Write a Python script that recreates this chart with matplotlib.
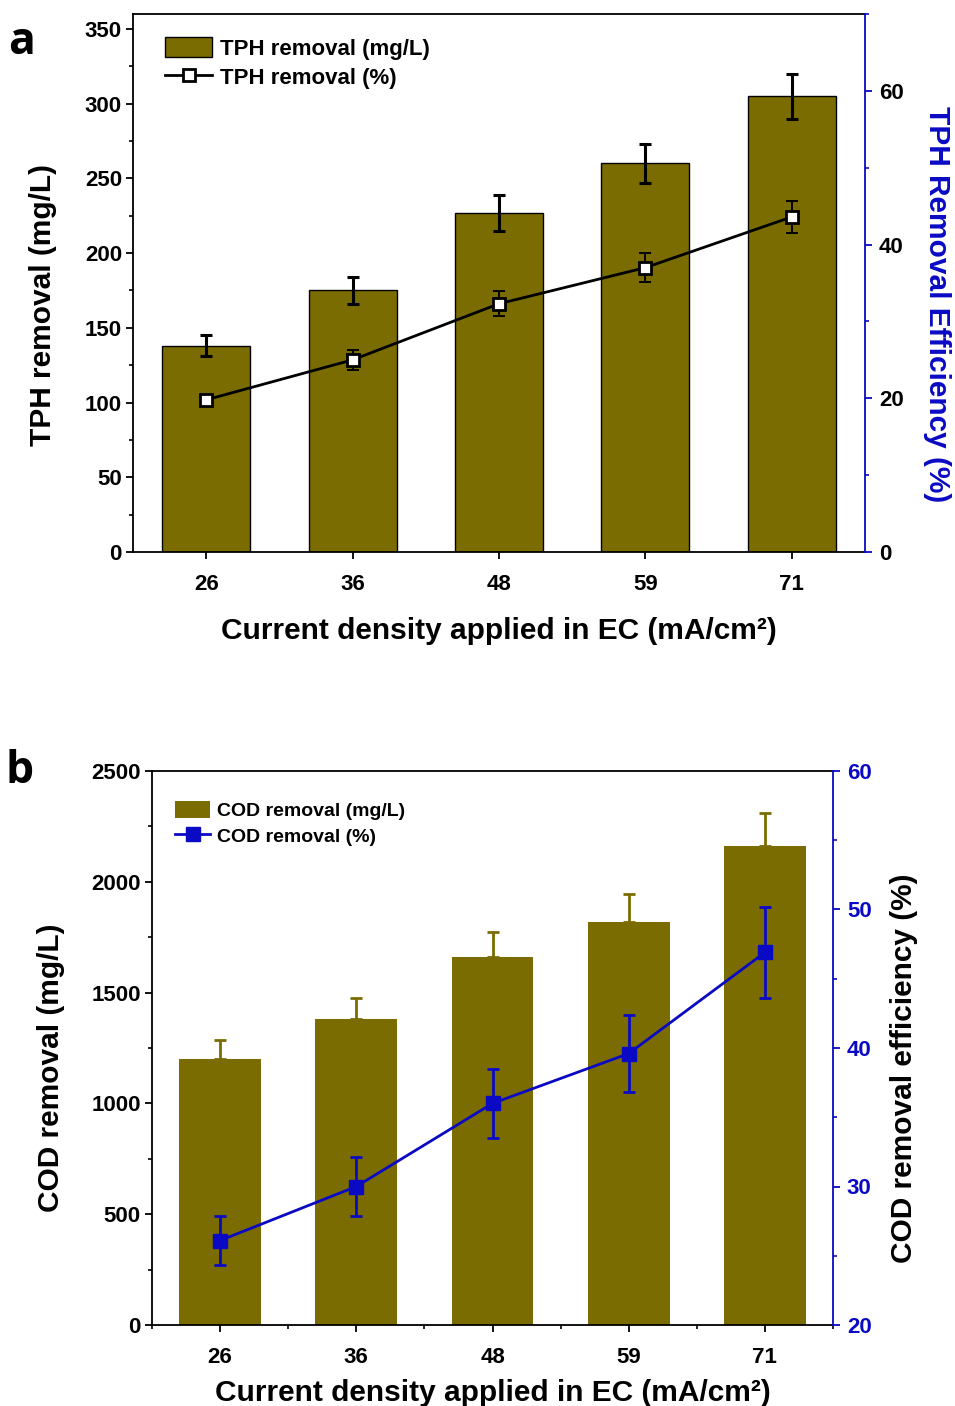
import numpy as np
import matplotlib
matplotlib.use('Agg')
import matplotlib.pyplot as plt
from matplotlib.ticker import MultipleLocator, FixedLocator

plt.rcParams['font.family'] = ['Liberation Sans', 'DejaVu Sans']
plt.rcParams['font.weight'] = 'bold'

# data
currents = ['26', '36', '48', '59', '71']
tph_mg = [138, 175, 227, 260, 305]
tph_mg_err = [7, 9, 12, 13, 15]
tph_pct = [19.8, 25.0, 32.3, 37.0, 43.6]
tph_pct_err = [0.6, 1.3, 1.6, 1.9, 2.1]
cod_mg = [1200, 1380, 1660, 1820, 2160]
cod_mg_err = [85, 96, 113, 125, 150]
cod_pct = [26.1, 30.0, 36.0, 39.6, 46.9]
cod_pct_err = [1.8, 2.1, 2.5, 2.8, 3.3]

olive = '#7a6c00'
blue = '#0a0ac4'
tick_fs = 16
lab_fs = 21.5

fig = plt.figure(figsize=(9.55, 14.06), dpi=100)
x = np.arange(len(currents))


def style_axes(ax):
    for s in ['left', 'bottom', 'top']:
        ax.spines[s].set_linewidth(1.3)
    ax.spines['right'].set_visible(False)
    ax.tick_params(axis='both', which='major', direction='out', length=5, width=1.3,
                   labelsize=tick_fs)
    ax.tick_params(axis='both', which='minor', direction='out', length=3, width=1.2)
    ax.tick_params(axis='y', pad=3)
    ax.tick_params(axis='x', pad=11)


# ---------- panel a ----------
ax1 = fig.add_axes([133/955, 1-552/1406, 732/955, 538/1406])
ax1.bar(x, tph_mg, width=0.6, color=olive, edgecolor='black', linewidth=1.0,
        label='TPH removal (mg/L)', zorder=2)
ax1.errorbar(x, tph_mg, yerr=tph_mg_err, fmt='none', ecolor='black', elinewidth=2.2,
             capsize=4, capthick=2.2, zorder=3)
ax1.set_xlim(-0.5, 4.5)
ax1.set_ylim(0, 360)
ax1.set_xticks(x)
ax1.set_xticklabels(currents)
ax1.yaxis.set_major_locator(MultipleLocator(50))
ax1.yaxis.set_minor_locator(MultipleLocator(25))
style_axes(ax1)
ax1.set_xlabel('Current density applied in EC (mA/cm²)', fontsize=lab_fs, fontweight='bold')
ax1.xaxis.set_label_coords(0.5, -0.121)
ax1.set_ylabel('TPH removal (mg/L)', fontsize=lab_fs, fontweight='bold')
ax1.yaxis.set_label_coords(-0.104, 0.46)

ax1r = ax1.twinx()
ax1r.set_ylim(0, 70)
ax1r.yaxis.set_major_locator(FixedLocator([0, 20, 40, 60]))
ax1r.yaxis.set_minor_locator(MultipleLocator(10))
for s in ['left', 'bottom', 'top']:
    ax1r.spines[s].set_visible(False)
ax1r.spines['right'].set_color(blue)
ax1r.spines['right'].set_linewidth(1.3)
ax1r.tick_params(axis='y', which='major', direction='out', length=5, width=1.3,
                 color=blue, labelcolor='black', labelsize=tick_fs, pad=5)
ax1r.tick_params(axis='y', which='minor', direction='out', length=3, width=1.2, color=blue)
ax1r.errorbar(x, tph_pct, yerr=tph_pct_err, fmt='none', ecolor='black', elinewidth=1.4,
              capsize=4, capthick=1.4, zorder=3)
ax1r.plot(x, tph_pct, '-s', color='black', linewidth=2, markersize=8.5,
          markerfacecolor='white', markeredgecolor='black', markeredgewidth=2,
          label='TPH removal (%)', zorder=4)
ax1r.set_ylabel('TPH Removal Efficiency (%)', fontsize=lab_fs, fontweight='bold',
                color=blue, rotation=270)
ax1r.yaxis.set_label_coords(1.117, 0.46)

h1, l1 = ax1.get_legend_handles_labels()
h2, l2 = ax1r.get_legend_handles_labels()
ax1r.legend(h1 + h2, l1 + l2, loc='upper left', bbox_to_anchor=(0.044, 0.957),
            frameon=False, fontsize=16, handlelength=2.1, handleheight=1.0,
            handletextpad=0.35, labelspacing=0.3, borderaxespad=0, borderpad=0)

fig.text(22/955, 1-43/1406, 'a', fontsize=32, fontweight='bold', family='Open Sans',
         ha='center', va='center')

# ---------- panel b ----------
ax2 = fig.add_axes([152/955, 1-1325/1406, 681/955, 554/1406])
ax2.bar(x, cod_mg, width=0.6, color=olive, edgecolor='none',
        label='COD removal (mg/L)', zorder=2)
ax2.errorbar(x, cod_mg, yerr=[[0]*len(cod_mg), cod_mg_err], fmt='none', ecolor=olive,
             elinewidth=2, capsize=4, capthick=2, zorder=1)
ax2.set_xlim(-0.5, 4.5)
ax2.set_ylim(0, 2500)
ax2.set_xticks(x)
ax2.set_xticklabels(currents)
ax2.xaxis.set_minor_locator(FixedLocator(np.arange(-0.5, 4.6, 1.0)))
ax2.yaxis.set_major_locator(MultipleLocator(500))
ax2.yaxis.set_minor_locator(MultipleLocator(250))
style_axes(ax2)
ax2.set_xlabel('Current density applied in EC (mA/cm²)', fontsize=lab_fs, fontweight='bold')
ax2.xaxis.set_label_coords(0.5, -0.098)
ax2.set_ylabel('COD removal (mg/L)', fontsize=lab_fs, fontweight='bold')
ax2.yaxis.set_label_coords(-0.128, 0.464)

ax2r = ax2.twinx()
ax2r.set_ylim(20, 60)
ax2r.yaxis.set_major_locator(MultipleLocator(10))
ax2r.yaxis.set_minor_locator(MultipleLocator(5))
for s in ['left', 'bottom', 'top']:
    ax2r.spines[s].set_visible(False)
ax2r.spines['right'].set_color(blue)
ax2r.spines['right'].set_linewidth(1.3)
ax2r.tick_params(axis='y', which='major', direction='out', length=5, width=1.3,
                 color=blue, labelcolor=blue, labelsize=tick_fs, pad=5)
ax2r.tick_params(axis='y', which='minor', direction='out', length=3, width=1.2, color=blue)
ax2r.errorbar(x, cod_pct, yerr=cod_pct_err, fmt='none', ecolor=blue, elinewidth=2,
              capsize=4, capthick=2, zorder=3)
ax2r.plot(x, cod_pct, '-s', color=blue, linewidth=2, markersize=10,
          markerfacecolor=blue, markeredgecolor=blue, label='COD removal (%)', zorder=4)
ax2r.set_ylabel('COD removal efficiency (%)', fontsize=lab_fs, fontweight='bold',
                color='black', rotation=90)
ax2r.yaxis.set_label_coords(1.084, 0.464)

h1, l1 = ax2.get_legend_handles_labels()
h2, l2 = ax2r.get_legend_handles_labels()
ax2r.legend(h1 + h2, l1 + l2, loc='upper left', bbox_to_anchor=(0.034, 0.945),
            frameon=False, fontsize=14, handlelength=1.8, handleheight=0.9,
            handletextpad=0.35, labelspacing=0.35, borderaxespad=0, borderpad=0)

fig.text(20/955, 1-772/1406, 'b', fontsize=32, fontweight='bold', family='Open Sans',
         ha='center', va='center')

fig.savefig('out.png', dpi=100)
